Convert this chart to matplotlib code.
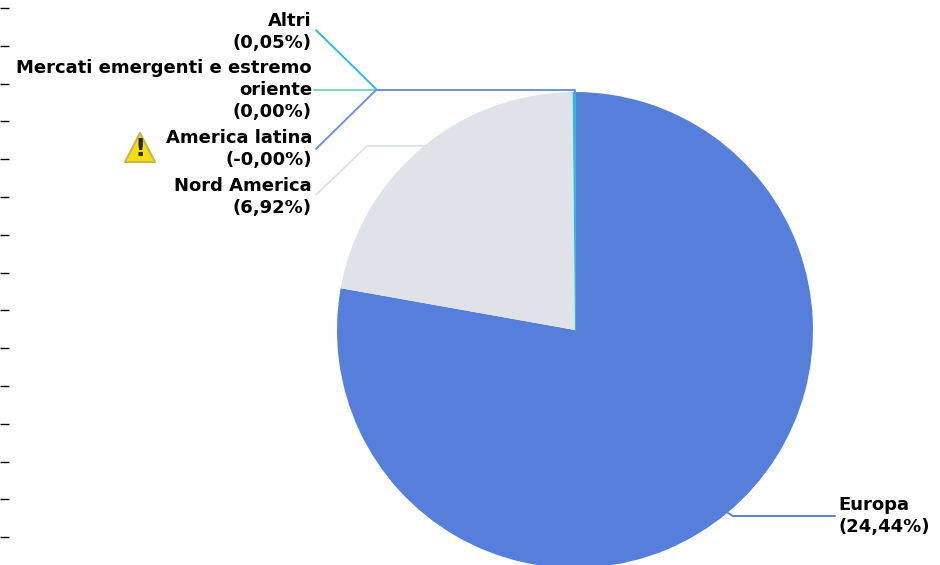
#!/usr/bin/env python3

import matplotlib
matplotlib.use("Agg")
import matplotlib.pyplot as plt
from matplotlib.patches import Polygon

categories = ["Europa", "Nord America", "America latina",
              "Mercati emergenti e estremo\noriente", "Altri"]
values = [24.44, 6.92, 0.00, 0.00, 0.05]
value_labels = ["24,44", "6,92", "-0,00", "0,00", "0,05"]
colors = ["#557fdb", "#dfe3e9", "#6f8fe0", "#7fd4b4", "#2dbdd4"]
tick_rows = list(range(15))

W, H = 940, 565


def py(y):
    # picture rows run downwards, the axes go upwards
    return H - y


fig = plt.figure(figsize=(W / 100, H / 100), dpi=100)
ax = fig.add_axes([0, 0, 1, 1])
ax.pie(values, colors=colors, startangle=90, counterclock=False,
       center=(575, py(330)), radius=238, frame=True,
       wedgeprops={"linewidth": 0})
ax.set_xlim(0, W)
ax.set_ylim(0, H)
ax.set_aspect("equal")
for s in ax.spines.values():
    s.set_visible(False)
ax.set_xticks([])
ax.set_yticks([py(8 + 37.8 * i) for i in tick_rows])
ax.set_yticklabels([])
ax.tick_params(axis="y", direction="in", length=6.5, width=1.0, color="black")

leaders = [
    ([835, 733, 728], [516, 516, 513], 0),
    ([316, 367, 425], [195, 146, 146], 1),
    ([314, 376], [90, 90], 3),
    ([316, 376], [30, 89], 4),
    ([316, 376, 575, 575], [149, 90, 90, 93], 2),
]
for xs, ys, i in leaders:
    ax.plot(xs, [py(y) for y in ys], color=colors[i], lw=1.4,
            solid_capstyle="round", zorder=3)
ax.plot([574.5, 574.5], [py(92), py(330)], color=colors[4], lw=0.8, zorder=3)

font = dict(fontsize=13, fontweight="bold", family="DejaVu Sans",
            color="black", linespacing=1.3)
anchors = [(838, 516, "left"), (312, 197, "right"), (312, 149, "right"),
           (312, 90, "right"), (312, 32, "right")]
for (x, y, ha), name, val in zip(anchors, categories, value_labels):
    ax.text(x, py(y), f"{name}\n({val}%)", ha=ha, va="center",
            multialignment=ha, **font)

# warning icon next to America latina
ax.add_patch(Polygon([(140, py(133)), (155, py(162)), (125, py(162))], closed=True,
                     facecolor="#f7dc14", edgecolor="#c8b84a", lw=1.5,
                     joinstyle="round", zorder=4))
ax.text(140, py(149), "!", ha="center", va="center", fontsize=18,
        fontweight="bold", color="#2a2a20", zorder=5)

fig.savefig("out.png", dpi=100)
